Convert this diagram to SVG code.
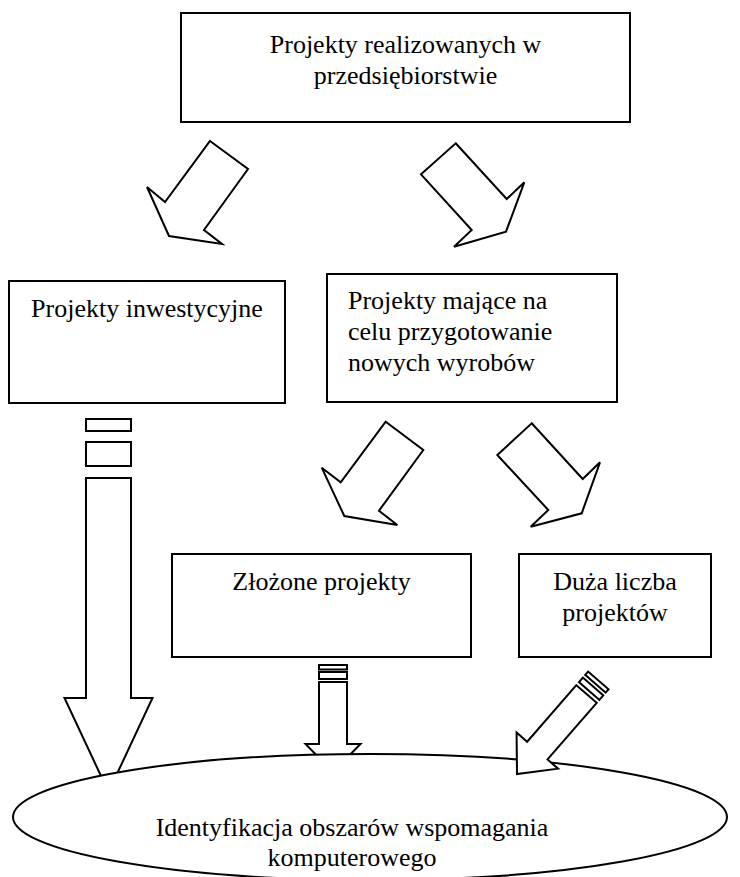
<svg xmlns="http://www.w3.org/2000/svg" width="740" height="877" viewBox="0 0 740 877">
<style>
.box{fill:#fff;stroke:#000;stroke-width:2}
.arr{fill:#fff;stroke:#000;stroke-width:2;stroke-linejoin:miter}
.t{font-family:"Liberation Serif","Times New Roman",serif;font-size:26px;fill:#000}
.c{text-anchor:middle}
</style>
<rect width="740" height="877" fill="#fff"/>
<g id="connectors">
<polygon class="arr" points="210,141 248,169 204,230 222,244 169,236 147,187 165,202"/>
<polygon class="arr" points="455.7,143.3 506.7,199 524.3,182.3 506,231.7 454,246.7 471.7,230 421,174.3"/>
<polygon class="arr" points="385.7,421.7 423.3,450 379,510.7 397.3,525 344.3,516 321.7,467.7 340.7,482.3"/>
<polygon class="arr" points="531.7,423.3 582.7,479 600,462.3 581.7,513.3 530.7,526.7 548.3,510 497.3,455"/>
<g transform="translate(108.5,792)">
<rect class="arr" x="-22.5" y="-373" width="45" height="12"/>
<rect class="arr" x="-22.5" y="-350" width="45" height="24"/>
<polygon class="arr" points="-22.5,-314 22.5,-314 22.5,-94 44,-94 0,0 -44,-94 -22.5,-94"/>
</g>
<g transform="translate(333,772)">
<rect class="arr" x="-14" y="-107" width="28" height="4.5"/>
<rect class="arr" x="-14" y="-100" width="28" height="7"/>
<polygon class="arr" points="-14,-90 14,-90 14,-28 27.5,-28 0,0 -27.5,-28 -14,-28"/>
</g>
</g>
<g id="ellipse">
<ellipse class="box" cx="370" cy="817" rx="357" ry="63"/>
<text class="t c" x="352" y="836">Identyfikacja obszarów wspomagania</text>
<text class="t c" x="352" y="866">komputerowego</text>
</g>
<g id="connectors2">
<g transform="translate(517,774) rotate(41)">
<rect class="arr" x="-13.5" y="-124" width="27" height="4.5"/>
<rect class="arr" x="-13.5" y="-116" width="27" height="6"/>
<polygon class="arr" points="-13.5,-106 13.5,-106 13.5,-31 27.5,-31 0,0 -27.5,-31 -13.5,-31"/>
</g>
</g>
<g id="n1">
<rect class="box" x="181" y="13" width="449" height="109"/>
<text class="t c" x="405.5" y="53">Projekty realizowanych w</text>
<text class="t c" x="405.5" y="84">przedsiębiorstwie</text>
</g>
<g id="n2">
<rect class="box" x="9" y="281" width="276" height="122"/>
<text class="t c" x="147" y="317">Projekty inwestycyjne</text>
</g>
<g id="n3">
<rect class="box" x="327" y="274" width="290" height="128"/>
<text class="t" x="348" y="309">Projekty mające na</text>
<text class="t" x="348" y="340">celu przygotowanie</text>
<text class="t" x="348" y="371">nowych wyrobów</text>
</g>
<g id="n4">
<rect class="box" x="172" y="554" width="299" height="103"/>
<text class="t c" x="321.5" y="590">Złożone projekty</text>
</g>
<g id="n5">
<rect class="box" x="519" y="554" width="192" height="103"/>
<text class="t c" x="615" y="590">Duża liczba</text>
<text class="t c" x="615" y="621">projektów</text>
</g>
</svg>
